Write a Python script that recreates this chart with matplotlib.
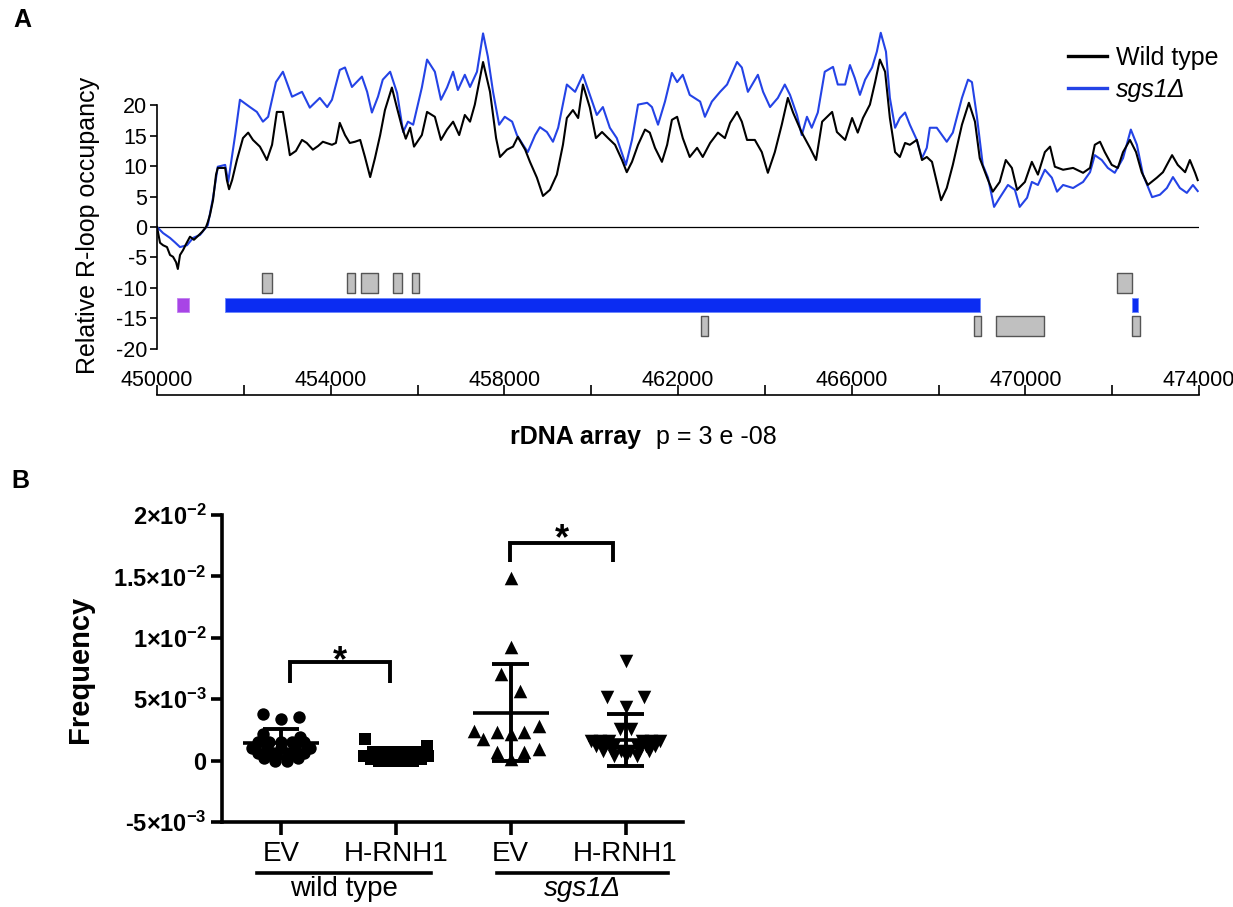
import matplotlib
matplotlib.use('Agg')
import matplotlib.pyplot as plt
import numpy as np

plt.rcParams['font.family'] = ['Liberation Sans', 'DejaVu Sans']
plt.rcParams['mathtext.fontset'] = 'custom'
plt.rcParams['mathtext.rm'] = 'Liberation Sans'
plt.rcParams['mathtext.bf'] = 'Liberation Sans:bold'
plt.rcParams['mathtext.it'] = 'Liberation Sans:italic'
plt.rcParams['axes.unicode_minus'] = False

##########################
# A: R-loop occupancy over the rDNA array
##########################
wt_pos = [450000, 450070, 450140, 450230, 450300, 450370, 450440, 450480, 450530, 450600,
          450670, 450760, 450850, 450940, 451040, 451130, 451170, 451220, 451290, 451360,
          451400, 451500, 451570, 451610, 451660, 451730, 451840, 451980, 452100, 452210,
          452370, 452460, 452530, 452650, 452760, 452900, 452990, 453060, 453200, 453340,
          453450, 453590, 453710, 453820, 454030, 454120, 454210, 454330, 454440, 454560,
          454680, 454790, 454910, 455020, 455140, 455250, 455410, 455530, 455640, 455730,
          455830, 455920, 456100, 456220, 456400, 456540, 456680, 456820, 456960, 457090,
          457210, 457320, 457510, 457670, 457810, 457900, 458060, 458200, 458310, 458480,
          458590, 458750, 458890, 459050, 459210, 459350, 459440, 459580, 459700, 459810,
          459970, 460110, 460250, 460390, 460550, 460710, 460820, 460940, 461080, 461240,
          461350, 461470, 461630, 461750, 461860, 461980, 462110, 462270, 462440, 462570,
          462740, 462920, 463080, 463200, 463360, 463470, 463590, 463770, 463930, 464070,
          464230, 464390, 464530, 464650, 464850, 465040, 465180, 465320, 465550, 465660,
          465850, 466010, 466140, 466260, 466420, 466540, 466650, 466770, 466880, 467000,
          467110, 467230, 467340, 467500, 467620, 467730, 467850, 467920, 468060, 468190,
          468330, 468540, 468700, 468840, 468950, 469120, 469250, 469410, 469550, 469690,
          469810, 469990, 470150, 470290, 470450, 470570, 470680, 470870, 471100, 471330,
          471490, 471600, 471720, 471830, 471990, 472130, 472250, 472410, 472550, 472680,
          472820, 473030, 473170, 473380, 473510, 473680, 473790, 473910, 473970]
wt_occ = [0, -2.6, -3.0, -3.3, -4.6, -4.9, -5.8, -6.9, -4.6, -3.8,
          -2.8, -1.6, -2.1, -1.5, -0.8, 0, 0.8, 2.0, 4.4, 8.6,
          9.7, 9.7, 9.7, 7.7, 6.2, 7.7, 11.0, 14.6, 15.5, 14.3,
          13.2, 12.0, 11.0, 13.5, 18.9, 18.9, 15.0, 11.8, 12.5, 14.3,
          13.8, 12.7, 13.3, 14.0, 13.5, 13.8, 17.1, 15.1, 13.8, 14.0,
          14.3, 11.5, 8.2, 11.3, 15.1, 19.2, 22.9, 19.5, 16.5, 14.5,
          16.3, 13.2, 15.1, 18.9, 18.1, 14.3, 16.0, 17.3, 15.1, 18.4,
          17.3, 20.1, 27.1, 22.2, 14.6, 11.5, 12.7, 13.2, 14.8, 12.7,
          10.7, 8.1, 5.1, 6.1, 8.6, 13.5, 17.9, 19.2, 17.9, 23.4,
          19.6, 14.6, 15.6, 14.6, 13.5, 11.0, 9.0, 10.7, 13.5, 16.0,
          15.5, 13.0, 10.7, 13.5, 17.6, 18.1, 14.6, 11.5, 13.0, 11.5,
          13.8, 15.5, 14.6, 17.1, 18.9, 17.3, 14.3, 14.3, 12.3, 8.9,
          12.3, 16.8, 21.2, 18.8, 15.5, 13.0, 11.0, 17.3, 18.9, 15.6,
          14.3, 17.9, 15.5, 17.9, 20.1, 23.8, 27.5, 25.5, 17.9, 12.3,
          11.5, 13.8, 13.5, 14.3, 11.0, 11.5, 10.7, 8.6, 4.4, 6.4,
          10.2, 16.8, 20.4, 17.3, 11.3, 8.1, 5.8, 7.4, 11.0, 9.7,
          6.1, 7.4, 10.7, 8.6, 12.3, 13.2, 9.9, 9.4, 9.7, 8.9,
          9.7, 13.5, 14.0, 12.3, 10.2, 9.7, 12.3, 14.3, 12.3, 9.0,
          6.9, 8.1, 9.0, 11.8, 10.2, 9.0, 11.0, 8.9, 7.7]

sgs_pos = [450000, 450140, 450300, 450410, 450530, 450690, 450830, 450990, 451170, 451290,
           451400, 451570, 451640, 451800, 451910, 452140, 452300, 452440, 452560, 452740,
           452900, 453110, 453340, 453520, 453750, 453920, 454030, 454210, 454330, 454490,
           454720, 454840, 454950, 455090, 455200, 455370, 455530, 455670, 455780, 455900,
           456100, 456220, 456400, 456540, 456680, 456820, 456930, 457090, 457210, 457370,
           457510, 457620, 457740, 457880, 458010, 458180, 458290, 458430, 458540, 458710,
           458820, 458980, 459120, 459240, 459440, 459630, 459810, 459970, 460130, 460270,
           460430, 460590, 460800, 460940, 461080, 461290, 461400, 461540, 461700, 461860,
           461980, 462110, 462270, 462510, 462620, 462780, 462970, 463130, 463360, 463470,
           463610, 463840, 463960, 464120, 464300, 464460, 464580, 464740, 464850, 464970,
           465080, 465220, 465380, 465570, 465680, 465850, 465960, 466070, 466190, 466310,
           466470, 466580, 466670, 466790, 466880, 467000, 467110, 467230, 467340, 467500,
           467620, 467730, 467800, 467960, 468190, 468330, 468540, 468680, 468770, 468880,
           469020, 469140, 469280, 469410, 469600, 469760, 469870, 470040, 470150, 470290,
           470450, 470610, 470730, 470870, 471100, 471330, 471490, 471600, 471760, 471900,
           472060, 472250, 472430, 472570, 472710, 472920, 473100, 473260, 473400, 473560,
           473720, 473860, 473970]
sgs_occ = [0, -1.0, -1.8, -2.5, -3.3, -3.0, -1.8, -1.3, 0.3, 4.8,
           9.9, 10.2, 7.4, 15.1, 20.9, 19.7, 18.9, 17.3, 18.1, 23.8,
           25.5, 21.4, 22.2, 19.6, 21.2, 19.7, 20.9, 25.8, 26.2, 23.0,
           24.7, 22.2, 18.8, 21.4, 24.2, 25.5, 22.0, 15.6, 17.3, 16.8,
           22.9, 27.5, 25.5, 20.9, 22.9, 25.5, 22.5, 25.0, 23.0, 25.5,
           31.8, 28.0, 22.2, 16.8, 18.1, 17.3, 15.1, 13.5, 12.3, 15.1,
           16.4, 15.6, 14.0, 16.3, 23.4, 22.2, 25.0, 21.7, 18.4, 19.7,
           16.3, 14.6, 10.2, 14.3, 20.1, 20.4, 19.7, 16.8, 20.6, 25.3,
           23.8, 25.0, 21.7, 20.6, 18.1, 20.6, 22.2, 23.4, 27.1, 26.2,
           22.2, 25.0, 22.2, 19.7, 21.2, 23.4, 21.7, 18.4, 15.1, 18.1,
           16.3, 18.8, 25.5, 26.3, 23.4, 23.4, 26.6, 24.5, 21.7, 24.2,
           26.2, 28.8, 31.9, 28.8, 21.2, 16.3, 17.9, 18.8, 16.8, 14.3,
           11.3, 13.0, 16.3, 16.3, 14.0, 15.5, 21.2, 24.2, 23.8, 18.4,
           10.2, 8.1, 3.3, 4.8, 6.9, 6.1, 3.3, 4.8, 7.4, 6.9,
           9.4, 8.1, 5.8, 6.9, 6.4, 7.4, 9.0, 11.8, 11.0, 9.7,
           8.9, 11.3, 16.0, 13.5, 8.6, 4.9, 5.3, 6.4, 8.2, 6.4,
           5.6, 6.9, 5.9]

# gene features under the trace: (start, length)
feat_top = [(452420, 230), (454380, 180), (454700, 390), (455440, 200), (455870, 160), (472110, 350)]
feat_mid = [(451570, 17390), (472460, 140)]
feat_purple = [(450460, 280)]
feat_low = [(462530, 160), (468820, 160), (469320, 1110), (472460, 180)]

##########################
# B: frequency per strain / plasmid
##########################
groups = ['EV', 'H-RNH1', 'EV', 'H-RNH1']
group_names = ['wild type', 'sgs1Δ']

wt_ev = [3.77, 3.36, 3.52, 2.13, 1.89, 1.5, 1.5, 1.5, 1.5, 1.5, 1.0, 1.0, 1.0, 1.0, 1.0,
         0.6, 0.6, 0.6, 0.6, 0.2, 0.2, 0.2, 0.2, 0.0, 0.0]
wt_ev_dx = [-0.157, 0.0, 0.157, -0.157, 0.165, -0.2, -0.1, 0, 0.1, 0.2, -0.25, -0.12, 0, 0.12, 0.25,
            -0.2, -0.07, 0.07, 0.2, -0.15, -0.05, 0.05, 0.15, -0.05, 0.05]
wt_rnh = [1.72, 1.15, 0.7, 0.7, 0.7, 0.7, 0.7, 0.4, 0.4, 0.4, 0.4, 0.4, 0.15, 0.15, 0.15, 0.15, 0.15,
          0.0, 0.0, 0.0, 0.0]
wt_rnh_dx = [-0.27, 0.27, -0.2, -0.1, 0, 0.1, 0.2, -0.28, -0.14, 0, 0.14, 0.28, -0.22, -0.11, 0, 0.11, 0.22,
             -0.15, -0.05, 0.05, 0.15]
sgs_ev = [14.84, 9.26, 7.05, 5.66, 2.38, 1.72, 2.30, 2.13, 2.30, 2.80, 0.74, 0.74, 0.98, 0.1]
sgs_ev_dx = [0, 0, -0.087, 0.078, -0.32, -0.24, -0.12, 0, 0.12, 0.25, -0.12, 0.12, 0.25, 0]
sgs_rnh = [8.1, 5.16, 5.16, 4.4, 2.6, 2.6, 1.6, 1.6, 1.6, 1.6, 1.6, 1.6, 1.2, 1.2, 1.2, 1.2, 1.2, 1.2,
           0.8, 0.8, 0.8, 0.8, 0.8, 0.8, 0.4, 0.4, 0.4]
sgs_rnh_dx = [0, -0.16, 0.16, 0, -0.05, 0.05, -0.30, -0.22, -0.14, 0.14, 0.22, 0.30,
              -0.26, -0.18, -0.10, 0.10, 0.18, 0.26, -0.2, -0.12, -0.04, 0.04, 0.12, 0.2, -0.1, 0, 0.1]

means = [1.40, 0.35, 3.90, 1.70]   # x1e-3
sds = [1.15, 0.50, 3.94, 2.10]     # x1e-3

ytick_vals = [-5e-3, 0, 5e-3, 1e-2, 1.5e-2, 2e-2]
ytick_labels = ['-5×10$^{\\mathbf{-3}}$', '0', '5×10$^{\\mathbf{-3}}$', '1×10$^{\\mathbf{-2}}$',
                '1.5×10$^{\\mathbf{-2}}$', '2×10$^{\\mathbf{-2}}$']

W, H = 1233, 907
fig = plt.figure(figsize=(W / 100, H / 100), dpi=100)

# ---------------- panel A ----------------
axA = fig.add_axes([157 / W, 1 - 395 / H, (1199 - 157) / W, (395 - 20) / H])
lwt, = axA.plot(wt_pos, wt_occ, color='black', lw=1.5, label='Wild type', zorder=3)
lsg, = axA.plot(sgs_pos, sgs_occ, color='#2443e6', lw=1.5, label='sgs1', zorder=2)
axA.axhline(0, color='black', lw=0.9, zorder=1)

axA.broken_barh(feat_top, (-10.9, 3.3), facecolors='#c0c0c0', edgecolors='#555555', lw=1)
axA.broken_barh(feat_mid, (-13.9, 2.2), facecolors='#0b2cf2', edgecolors='#6a86ff', lw=0.6)
axA.broken_barh(feat_purple, (-13.9, 2.2), facecolors='#a845e6', edgecolors='#c080f0', lw=0.6)
axA.broken_barh(feat_low, (-17.9, 3.2), facecolors='#c0c0c0', edgecolors='#555555', lw=1)

axA.set_xlim(450000, 474000)
axA.set_ylim(-27.6, 34)
axA.spines['top'].set_visible(False)
axA.spines['right'].set_visible(False)
axA.spines['left'].set_bounds(-20, 20)
axA.spines['left'].set_linewidth(1.2)
axA.spines['bottom'].set_linewidth(1.2)
axA.set_yticks(range(-20, 21, 5))
axA.set_xticks(range(450000, 474001, 4000))
axA.set_xticks(range(452000, 474000, 4000), minor=True)
axA.tick_params(axis='x', which='both', direction='in', length=7, width=1.2, pad=-18, labelsize=15.5)
axA.tick_params(axis='y', direction='out', length=5, width=1.2, pad=2, labelsize=15.5)

fig.text(88 / W, 1 - 225 / H, 'Relative R-loop occupancy', rotation=90, ha='center', va='center', fontsize=18)
fig.text(641 / W, 1 - 437 / H, 'rDNA array', ha='right', va='center', fontsize=18, fontweight='bold')
fig.text(656 / W, 1 - 437 / H, 'p = 3 e -08', ha='left', va='center', fontsize=18)

leg = fig.legend([lwt, lsg], group_names[:0] + ['Wild type', group_names[1]], loc='upper left',
                 bbox_to_anchor=(1068 / W, 1 - 46 / H), frameon=False, fontsize=18,
                 handlelength=1.56, handletextpad=0.36, labelspacing=0.3,
                 borderpad=0, borderaxespad=0)
for ln in leg.get_lines():
    ln.set_linewidth(2.4)
leg.get_texts()[1].set_style('italic')

fig.text(22 / W, 1 - 20 / H, 'A', ha='center', va='center', fontsize=18, fontweight='bold')
fig.text(20 / W, 1 - 481 / H, 'B', ha='center', va='center', fontsize=18, fontweight='bold')

# ---------------- panel B ----------------
axB = fig.add_axes([222 / W, 1 - 822 / H, (683 - 222) / W, (822 - 515) / H])
axB.set_xlim(-0.513, 3.5)
axB.set_ylim(-5e-3, 2e-2)

pts = [(wt_ev, wt_ev_dx, 'o', 80), (wt_rnh, wt_rnh_dx, 's', 70),
       (sgs_ev, sgs_ev_dx, '^', 95), (sgs_rnh, sgs_rnh_dx, 'v', 95)]
for i, (vals, dx, mk, sz) in enumerate(pts):
    xs = i + np.array(dx)
    ys = np.array(vals) * 1e-3
    axB.scatter(xs, ys, marker=mk, s=sz, color='black', linewidths=0, zorder=2, clip_on=False)
    m = means[i] * 1e-3
    s = sds[i] * 1e-3
    axB.hlines(m, i - 0.33, i + 0.33, color='black', lw=2.6, zorder=3)
    axB.vlines(i, m - s, m + s, color='black', lw=2.8, zorder=3)
    axB.hlines([m - s, m + s], i - 0.16, i + 0.16, color='black', lw=2.8, zorder=3)

# significance brackets
axB.plot([0.08, 0.08, 0.95, 0.95], [6.3e-3, 8.03e-3, 8.03e-3, 6.3e-3], color='black', lw=2.8,
         solid_capstyle='butt', solid_joinstyle='miter', clip_on=False)
axB.text(0.51, 7.3e-3, '*', ha='center', va='baseline', fontsize=26, fontweight='bold')
axB.plot([1.99, 1.99, 2.89, 2.89], [16.2e-3, 17.7e-3, 17.7e-3, 16.2e-3], color='black', lw=2.8,
         solid_capstyle='butt', solid_joinstyle='miter', clip_on=False)
axB.text(2.45, 17.2e-3, '*', ha='center', va='baseline', fontsize=26, fontweight='bold')

axB.spines['top'].set_visible(False)
axB.spines['right'].set_visible(False)
axB.spines['left'].set_linewidth(2.6)
axB.spines['bottom'].set_linewidth(2.6)
axB.set_yticks(ytick_vals, ytick_labels)
axB.set_xticks(range(4), groups)
axB.tick_params(axis='y', direction='out', length=8, width=2.6, pad=3, labelsize=17)
axB.tick_params(axis='x', direction='out', length=9, width=2.6, pad=5, labelsize=20)
for lbl in axB.get_yticklabels():
    lbl.set_fontweight('bold')

tr = axB.get_xaxis_transform()
axB.plot([-0.21, 1.31], [-0.166, -0.166], color='black', lw=2.6, transform=tr, clip_on=False)
axB.plot([1.88, 3.37], [-0.166, -0.166], color='black', lw=2.6, transform=tr, clip_on=False)
axB.text(0.55, -0.218, group_names[0], transform=tr, ha='center', va='center', fontsize=20)
axB.text(2.625, -0.218, group_names[1], transform=tr, ha='center', va='center', fontsize=20, style='italic')

fig.text(80 / W, 1 - 669 / H, 'Frequency', rotation=90, ha='center', va='center', fontsize=21, fontweight='bold')

plt.savefig('out.png', dpi=100)
